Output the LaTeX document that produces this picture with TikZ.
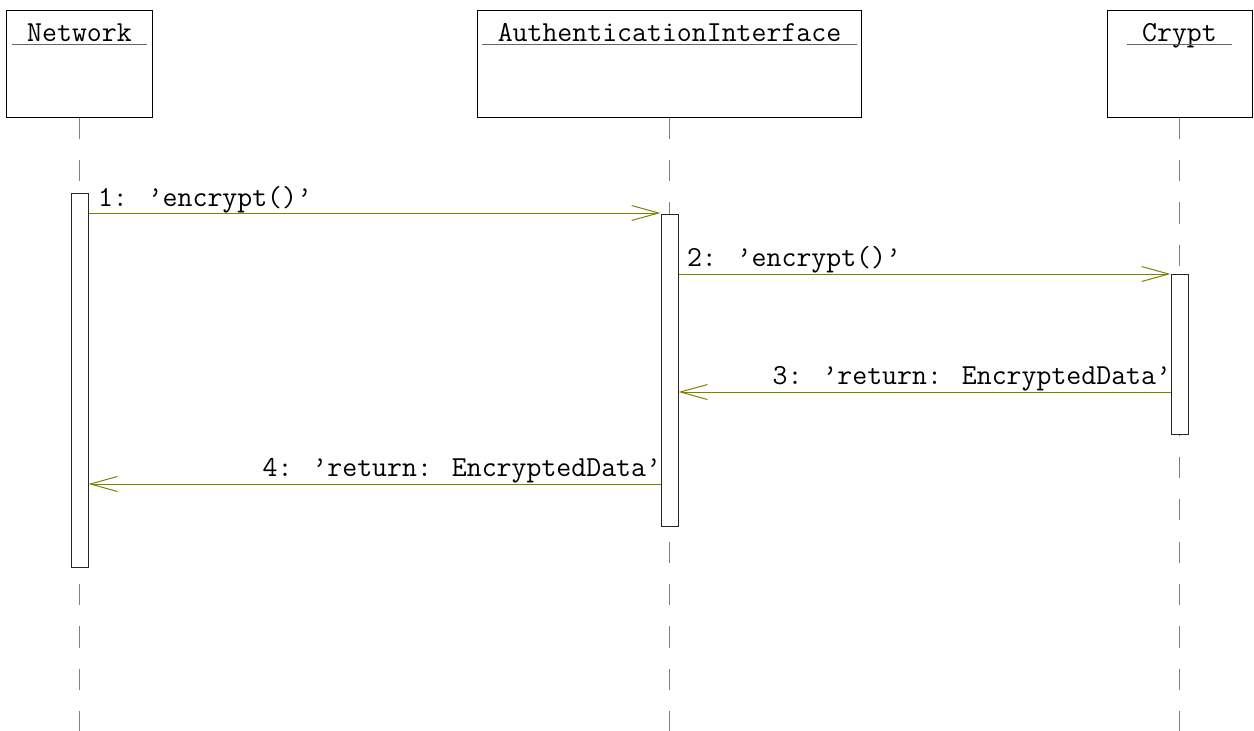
\documentclass[tikz,border=0pt]{standalone}
\usepackage{fontspec}
\usepackage{tikz}
\usetikzlibrary{positioning,arrows.meta,calc}
\definecolor{msgOlive}{HTML}{808000}
\definecolor{lifeGray}{HTML}{808080}

\begin{document}
\begin{tikzpicture}[x=1pt,y=-1pt,
    font=\ttfamily\fontsize{29pt}{34pt}\selectfont,
    objbox/.style={draw=black,line width=1pt,fill=white,minimum height=107pt,inner sep=0pt},
    objname/.style={inner xsep=15.2pt,inner ysep=0pt},
    actbar/.style={draw=black!85,line width=1pt,fill=white,minimum width=17pt,inner sep=0pt},
    lifeline/.style={draw=lifeGray,line width=1pt,dash pattern=on 21.2pt off 21.2pt},
    msg/.style={draw=msgOlive,line width=1pt,-{Straight Barb[length=27pt,width=15pt,line width=1pt]}},
    msglabel/.style={inner sep=0pt}]
  \useasboundingbox (0,0) rectangle (1254,731);
  \coordinate (bottom) at (0,731);

  % objects
  \node[objbox,minimum width=146pt] (network) at (79.5,63.5) {};
  \node[objbox,minimum width=384pt] (auth) at (669.5,63.5) {};
  \node[objbox,minimum width=145pt] (crypt) at (1179.5,63.5) {};
  \node[objname,anchor=base] (networkName) at ($(network.north)+(0,32)$) {Network};
  \node[objname,anchor=base] (authName) at ($(auth.north)+(0,32)$) {AuthenticationInterface};
  \node[objname,anchor=base] (cryptName) at ($(crypt.north)+(0,32)$) {Crypt};
  \foreach \n in {networkName,authName,cryptName}
    \draw[line width=1.2pt,black!60] ([yshift=-3pt]\n.base west) -- ([yshift=-3pt]\n.base east);

  % lifelines
  \foreach \n in {network,auth,crypt}
    \draw[lifeline] (\n.south) -- (\n.south |- bottom);

  % activations
  \node[actbar,minimum height=374pt] (networkAct) at (79.5,380) {};
  \node[actbar,minimum height=312pt] (authAct) at (669.5,370) {};
  \node[actbar,minimum height=160pt] (cryptAct) at (1179.5,354) {};

  % messages
  \coordinate (m1) at (0,213);
  \coordinate (m2) at (0,274);
  \coordinate (m3) at (0,392);
  \coordinate (m4) at (0,484);
  \draw[msg] (networkAct.east |- m1) -- (authAct.west |- m1)
    node[msglabel,pos=0,anchor=base west,xshift=9pt,yshift=7pt] (msg1) {1: ’encrypt()’};
  \draw[msg] (authAct.east |- m2) -- (cryptAct.west |- m2)
    node[msglabel,pos=0,anchor=base west,xshift=8pt,yshift=8pt] (msg2) {2: ’encrypt()’};
  \draw[msg] (cryptAct.west |- m3) -- (authAct.east |- m3)
    node[msglabel,pos=0,anchor=base east,xshift=1pt,yshift=8pt] (msg3) {3: ’return: EncryptedData’};
  \draw[msg] (authAct.west |- m4) -- (networkAct.east |- m4)
    node[msglabel,pos=0,anchor=base east,xshift=1pt,yshift=8pt] (msg4) {4: ’return: EncryptedData’};
\end{tikzpicture}
\end{document}
